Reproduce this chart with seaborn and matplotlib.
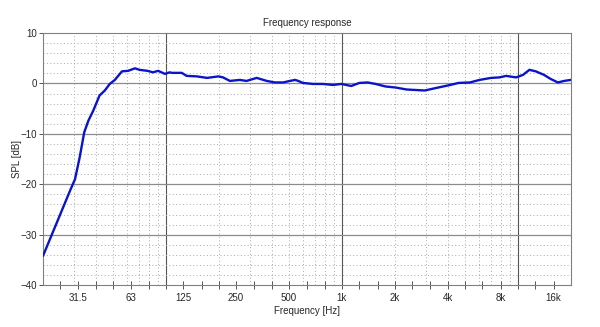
import numpy as np
import pandas as pd
import matplotlib
matplotlib.use("Agg")
import matplotlib.pyplot as plt
import seaborn as sns
from matplotlib.ticker import FixedLocator, NullFormatter

# Data (frequency in Hz, SPL in dB)
freq = [20, 28.7, 30.4, 32.3, 34.3, 36.2, 38.6, 41.9, 44.9, 47.9, 51.2, 56.2,
        60.9, 66.7, 70.7, 78.6, 84.2, 90.3, 98.6, 105, 108, 123, 131, 150,
        171, 199, 211, 231, 263, 287, 328, 374, 416, 464, 506, 542, 565, 601,
        687, 780, 890, 993, 1131, 1257, 1400, 1556, 1770, 2014, 2334, 2960,
        3430, 4130, 4600, 5350, 6060, 7050, 7870, 8580, 9780, 10710, 11640,
        12660, 14100, 15370, 16900, 18360, 20000]
spl = [-34.2, -21.0, -19.0, -14.7, -9.7, -7.4, -5.4, -2.4, -1.4, -0.1, 0.7, 2.4,
       2.5, 3.0, 2.7, 2.5, 2.2, 2.5, 1.9, 2.2, 2.1, 2.1, 1.5, 1.4,
       1.1, 1.4, 1.2, 0.5, 0.7, 0.5, 1.1, 0.5, 0.2, 0.2, 0.5, 0.7, 0.5, 0.1,
       -0.1, -0.1, -0.3, -0.1, -0.5, 0.1, 0.2, -0.1, -0.6, -0.8, -1.2, -1.4,
       -0.9, -0.3, 0.1, 0.2, 0.7, 1.1, 1.2, 1.5, 1.2, 1.7, 2.7,
       2.4, 1.7, 0.9, 0.2, 0.5, 0.7]

third_oct = [25, 31.5, 40, 50, 63, 80, 100, 125, 160, 200, 250, 315, 400, 500,
             630, 800, 1000, 1250, 1600, 2000, 2500, 3150, 4000, 5000, 6300,
             8000, 10000, 12500, 16000]
label_pos = [31.5, 63, 125, 250, 500, 1000, 2000, 4000, 8000, 16000]
label_txt = ["31.5", "63", "125", "250", "500", "1k", "2k", "4k", "8k", "16k"]
y_ticks = [-40, -30, -20, -10, 0, 10]
y_labels = ["\u221240", "\u221230", "\u221220", "\u221210", "0", "10"]

df = pd.DataFrame({"Frequency": freq, "SPL": spl})

sns.set_theme(style="white")
plt.rcParams["font.family"] = ["Liberation Sans", "DejaVu Sans"]

fig = plt.figure(figsize=(6, 3.27), dpi=100)
ax = fig.add_axes([0.0717, 0.128, 0.8795, 0.771])

# grid
for d in [10, 100, 1000, 10000]:
    for m in range(2, 10):
        f = d * m
        if 20 < f < 20000:
            ax.axvline(f, color="#a8a8a8", lw=0.7, ls=(0, (1, 2.5)), zorder=0)
for f in [100, 1000, 10000]:
    ax.axvline(f, color="#555555", lw=0.8, zorder=0)
for v in range(-38, 10, 2):
    if v % 10 != 0:
        ax.axhline(v, color="#a8a8a8", lw=0.7, ls=(0, (1, 2.5)), zorder=0)
for v in [-30, -20, -10, 0]:
    ax.axhline(v, color="#8c8c8c", lw=0.9, zorder=0)

sns.lineplot(data=df, x="Frequency", y="SPL", ax=ax, color="#0a14c8",
             lw=1.7, zorder=3)

ax.set_xscale("log")
ax.set_xlim(20, 20000)
ax.set_ylim(-40, 10)
ax.xaxis.set_major_locator(FixedLocator(label_pos))
ax.set_xticklabels(label_txt)
ax.xaxis.set_minor_locator(FixedLocator(third_oct))
ax.xaxis.set_minor_formatter(NullFormatter())
ax.set_yticks(y_ticks)
ax.set_yticklabels(y_labels)

ax.tick_params(axis="x", which="both", direction="inout", length=6,
               width=0.7, color="#555555", labelsize=7, pad=3, bottom=True)
ax.tick_params(axis="y", which="both", direction="out", length=3,
               width=0.7, color="#555555", labelsize=7, pad=1, left=True)

for s in ax.spines.values():
    s.set_color("#808080")
    s.set_linewidth(0.8)

ax.set_title("Frequency response", fontsize=7, pad=5)
ax.set_xlabel("Frequency [Hz]", fontsize=7, labelpad=2)
ax.set_ylabel("SPL [dB]", fontsize=7)
ax.yaxis.set_label_coords(-0.04, 0.5)

fig.savefig("out.png", dpi=100)
